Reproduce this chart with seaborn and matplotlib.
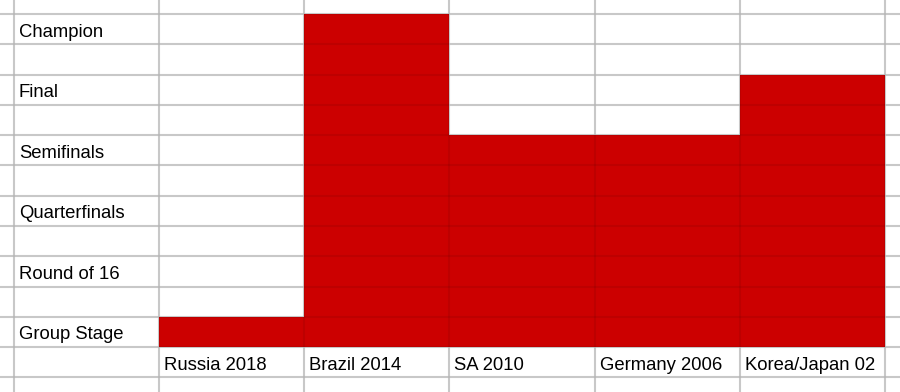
import matplotlib
matplotlib.use("Agg")
import matplotlib.pyplot as plt
import seaborn as sns
import pandas as pd
import numpy as np

# --- data ---
stages = ["Group Stage", "Round of 16", "Quarterfinals", "Semifinals", "Final", "Champion"]
tournaments = ["Russia 2018", "Brazil 2014", "SA 2010", "Germany 2006", "Korea/Japan 02"]
reached = ["Group Stage", "Champion", "Semifinals", "Semifinals", "Final"]
# each stage occupies two spreadsheet rows; bar height in rows
rows_filled = [1, 11, 7, 7, 9]

df = pd.DataFrame({"tournament": tournaments, "rows": rows_filled})

sns.set_theme(style="white")
plt.rcParams["font.family"] = ["Liberation Sans", "DejaVu Sans"]

fig = plt.figure(figsize=(9.0, 3.92), dpi=100)
ax = fig.add_axes([0, 0, 1, 1])

sns.barplot(data=df, x="tournament", y="rows", color="#cc0000", width=1.0,
            saturation=1, ax=ax, linewidth=0, edgecolor="none")

col_w = 145.2   # px per column
row_h = 30.25   # px per row
xlim = (-0.5 - 159 / col_w, 4.5 + 15 / col_w)
ylim = (-45 / row_h, 347 / row_h)
xgrid = np.arange(-1.5, 5.0, 1.0)
ygrid = np.arange(-1, 12, 1)


def style_grid(a, **kw):
    a.set_xlim(*xlim)
    a.set_ylim(*ylim)
    a.set_xticks([])
    a.set_yticks([])
    a.set_xticks(xgrid, minor=True)
    a.set_yticks(ygrid, minor=True)
    a.grid(which="minor", **kw)
    a.tick_params(which="both", length=0)
    for s in a.spines.values():
        s.set_visible(False)
    a.set_xlabel("")
    a.set_ylabel("")


# light spreadsheet grid beneath the bars
style_grid(ax, color="#d8d8d8", linewidth=1.5)
ax.set_axisbelow(True)

# faint overlay so the grid shows through the filled cells
ax2 = fig.add_axes([0, 0, 1, 1], sharex=None, sharey=None)
ax2.patch.set_alpha(0)
style_grid(ax2, color="black", alpha=0.07, linewidth=1.5)

fs = 13.3
pad = 5 / col_w
for i, st in enumerate(stages):
    ax2.text(-1.5 + pad, 2 * i + 0.25, st, fontsize=fs, ha="left", va="baseline",
             color="#000000")
for i, t in enumerate(tournaments):
    ax2.text(i - 0.5 + pad, -1 + 0.25, t, fontsize=fs, ha="left", va="baseline",
             color="#000000")

fig.savefig("out.png", dpi=100)
